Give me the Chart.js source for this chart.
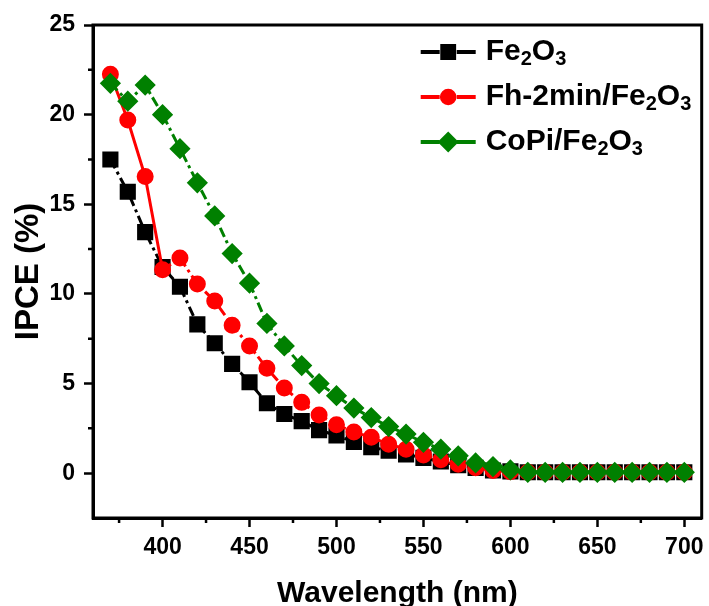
<!DOCTYPE html>
<html>
<head>
<meta charset="utf-8">
<script src="https://cdn.jsdelivr.net/npm/chart.js@4.4.1/dist/chart.umd.min.js"></script>
<style>
  html, body { margin: 0; padding: 0; background: #fff; overflow: hidden; }
  #wrap { width: 714px; height: 606px; }
  canvas { display: block; }
</style>
</head>
<body>
<div id="wrap"><canvas id="ipceChart"></canvas></div>
<script>
// Data
const wavelengths = [370, 380, 390, 400, 410, 420, 430, 440, 450, 460, 470, 480,
  490, 500, 510, 520, 530, 540, 550, 560, 570, 580, 590, 600,
  610, 620, 630, 640, 650, 660, 670, 680, 690, 700];
const fe2o3 = [17.5, 15.7, 13.45, 11.5, 10.4, 8.3, 7.25, 6.1, 5.07, 3.9, 3.3, 2.9,
  2.4, 2.1, 1.75, 1.45, 1.25, 1.05, 0.85, 0.65, 0.45, 0.3, 0.15, 0.1,
  0.05, 0.05, 0.05, 0.05, 0.05, 0.05, 0.05, 0.05, 0.05, 0.05];
const fh2min = [22.25, 19.7, 16.55, 11.35, 12.0, 10.55, 9.6, 8.25, 7.1, 5.85, 4.75, 3.95,
  3.25, 2.7, 2.3, 2.0, 1.62, 1.34, 1.02, 0.75, 0.5, 0.3, 0.15, 0.08,
  0.05, 0.05, 0.05, 0.05, 0.05, 0.05, 0.05, 0.05, 0.05, 0.05];
const copi = [21.75, 20.75, 21.65, 20.0, 18.1, 16.2, 14.35, 12.25, 10.6, 8.35, 7.1, 6.0,
  5.0, 4.32, 3.63, 3.1, 2.6, 2.18, 1.72, 1.34, 0.97, 0.57, 0.37, 0.18,
  0.05, 0.05, 0.05, 0.05, 0.05, 0.05, 0.05, 0.05, 0.05, 0.05];

const xTicks = [400, 450, 500, 550, 600, 650, 700];
const xMinorTicks = [375, 425, 475, 525, 575, 625, 675];
const yTicks = [0, 5, 10, 15, 20, 25];
const yMinorTicks = [2.5, 7.5, 12.5, 17.5, 22.5];

// legend labels, "_" marks a subscript digit
const legendLabels = ["Fe_2O_3", "Fh-2min/Fe_2O_3", "CoPi/Fe_2O_3"];

const FONT = "'Liberation Sans', Arial, sans-serif";
const dashDot = [10, 4, 3, 4];

function toPoints(ys) {
  return wavelengths.map((x, i) => ({ x: x, y: ys[i] }));
}

// Frame on top/right plus minor ticks
const framePlugin = {
  id: "frame",
  afterDraw(chart) {
    const { ctx, chartArea, scales } = chart;
    const { left, right, top, bottom } = chartArea;
    ctx.save();
    ctx.strokeStyle = "#000";
    ctx.lineWidth = 3;
    ctx.strokeRect(left, top, right - left, bottom - top);
    ctx.lineWidth = 2.5;
    ctx.beginPath();
    xMinorTicks.forEach((v) => {
      const px = scales.x.getPixelForValue(v);
      ctx.moveTo(px, bottom);
      ctx.lineTo(px, bottom + 5);
    });
    yMinorTicks.forEach((v) => {
      const py = scales.y.getPixelForValue(v);
      ctx.moveTo(left, py);
      ctx.lineTo(left - 5, py);
    });
    ctx.stroke();
    ctx.restore();
  },
};

// Legend drawn inside the plot with real subscripts
function drawRichText(ctx, text, x, y, size) {
  const parts = text.split(/(_\d)/).filter((p) => p.length);
  parts.forEach((p) => {
    if (p[0] === "_") {
      ctx.font = "bold " + Math.round(size * 0.65) + "px " + FONT;
      ctx.fillText(p.slice(1), x, y + size * 0.25);
      x += ctx.measureText(p.slice(1)).width;
    } else {
      ctx.font = "bold " + size + "px " + FONT;
      ctx.fillText(p, x, y);
      x += ctx.measureText(p).width;
    }
  });
}

const insideLegend = {
  id: "insideLegend",
  afterDraw(chart) {
    const { ctx, chartArea } = chart;
    const x0 = chartArea.right - 281;
    const y0 = chartArea.top + 27;
    ctx.save();
    chart.data.datasets.forEach((ds, i) => {
      const y = y0 + i * 45;
      ctx.strokeStyle = ds.borderColor;
      ctx.lineWidth = 4;
      ctx.setLineDash([]);
      ctx.beginPath();
      ctx.moveTo(x0, y);
      ctx.lineTo(x0 + 19, y);
      ctx.moveTo(x0 + 36, y);
      ctx.lineTo(x0 + 55, y);
      ctx.stroke();
      ctx.fillStyle = ds.pointBackgroundColor;
      ctx.strokeStyle = ds.pointBorderColor;
      Chart.helpers.drawPoint(ctx, {
        pointStyle: ds.pointStyle,
        radius: ds.pointRadius * 0.9,
        rotation: 0,
        borderWidth: 1,
      }, x0 + 27.5, y);
      ctx.fillStyle = "#000";
      ctx.textBaseline = "middle";
      ctx.textAlign = "left";
      drawRichText(ctx, legendLabels[i], x0 + 65, y, 30);
    });
    ctx.restore();
  },
};

document.addEventListener("DOMContentLoaded", function () {
  const ctx = document.getElementById("ipceChart");

  new Chart(ctx, {
    type: "line",
    data: {
      datasets: [
        {
          label: "Fe2O3",
          data: toPoints(fe2o3),
          borderColor: "#000000",
          pointBackgroundColor: "#000000",
          pointBorderColor: "#000000",
          pointStyle: "rect",
          pointRadius: 9.3,
          borderWidth: 3,
          borderDash: dashDot,
          order: 3,
        },
        {
          label: "Fh-2min/Fe2O3",
          data: toPoints(fh2min),
          borderColor: "#ff0000",
          pointBackgroundColor: "#ff0000",
          pointBorderColor: "#ff0000",
          pointStyle: "circle",
          pointRadius: 7,
          borderWidth: 3,
          segment: {
            borderDash: (c) => (c.p1.parsed.x <= 400 ? [] : dashDot),
          },
          order: 2,
        },
        {
          label: "CoPi/Fe2O3",
          data: toPoints(copi),
          borderColor: "#008000",
          pointBackgroundColor: "#008000",
          pointBorderColor: "#008000",
          pointStyle: "rectRot",
          pointRadius: 8.5,
          borderWidth: 3,
          borderDash: dashDot,
          order: 1,
        },
      ],
    },
    options: {
      responsive: true,
      maintainAspectRatio: false,
      animation: false,
      layout: { padding: { top: 25, right: 0, left: 0, bottom: 0 } },
      plugins: {
        legend: { display: false },
        tooltip: { enabled: false },
      },
      elements: {
        line: { tension: 0 },
        point: { borderWidth: 1 },
      },
      scales: {
        x: {
          type: "linear",
          min: 360,
          max: 710,
          afterBuildTicks: (scale) => {
            scale.ticks = xTicks.map((v) => ({ value: v }));
          },
          afterFit: (scale) => {
            scale.height = 88;
          },
          border: { display: true, color: "#000", width: 3 },
          grid: {
            drawOnChartArea: false,
            drawTicks: true,
            tickLength: 9,
            tickWidth: 2.5,
            tickColor: "#000",
          },
          ticks: {
            color: "#000",
            padding: 3,
            maxRotation: 0,
            font: { family: FONT, size: 23, weight: "bold", lineHeight: 1.5 },
          },
          title: {
            display: true,
            text: "Wavelength (nm)",
            color: "#000",
            padding: { top: 0, bottom: 0 },
            font: { family: FONT, size: 30, weight: "bold", lineHeight: 0.8 },
          },
        },
        y: {
          min: -2.5,
          max: 25,
          afterBuildTicks: (scale) => {
            scale.ticks = yTicks.map((v) => ({ value: v }));
          },
          afterFit: (scale) => {
            scale.width = 93;
          },
          border: { display: true, color: "#000", width: 3 },
          grid: {
            drawOnChartArea: false,
            drawTicks: true,
            tickLength: 9,
            tickWidth: 2.5,
            tickColor: "#000",
          },
          ticks: {
            color: "#000",
            padding: 9,
            font: { family: FONT, size: 23, weight: "bold" },
          },
          title: {
            display: true,
            text: "IPCE (%)",
            color: "#000",
            padding: { top: 12, bottom: 0 },
            font: { family: FONT, size: 33, weight: "bold", lineHeight: 1 },
          },
        },
      },
    },
    plugins: [framePlugin, insideLegend],
  });
});
</script>
</body>
</html>
